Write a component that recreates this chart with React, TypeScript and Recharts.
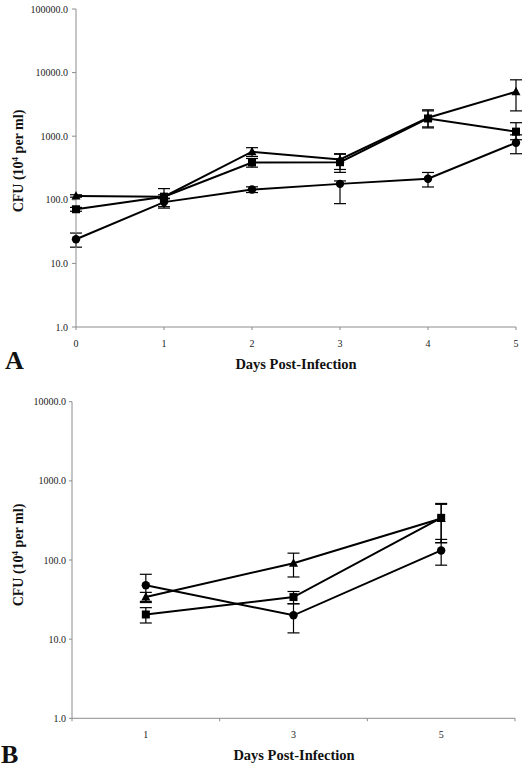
import { LineChart, Line, XAxis, YAxis, ErrorBar } from 'recharts';

// Panel A
const daysA = [0, 1, 2, 3, 4, 5];
const triA = [115, 112, 570, 430, 1950, 5000];
const triAErr = [[5, 5], [8, 8], [90, 90], [130, 100], [550, 650], [2500, 2700]];
const sqA = [71, 112, 386, 390, 1900, 1180];
const sqAErr = [[5, 5], [38, 38], [60, 60], [120, 130], [550, 600], [300, 450]];
const cirA = [24, 92, 145, 178, 214, 790];
const cirAErr = [[6, 6], [14, 14], [15, 15], [91, 20], [55, 55], [260, 260]];
const ticksA = [1, 10, 100, 1000, 10000, 100000];

// Panel B
const daysB = [1, 3, 5];
const triB = [34, 91, 335];
const triBErr = [[5, 5], [30, 31], [170, 170]];
const sqB = [20.5, 34, 341];
const sqBErr = [[4.5, 4.5], [6, 6], [175, 177]];
const cirB = [48, 20, 132];
const cirBErr = [[18, 18], [8, 8], [46, 50]];
const ticksB = [1, 10, 100, 1000, 10000];

const dataA = daysA.map((d, i) => ({
  day: d, tri: triA[i], triErr: triAErr[i], sq: sqA[i], sqErr: sqAErr[i], cir: cirA[i], cirErr: cirAErr[i],
}));
const dataB = daysB.map((d, i) => ({
  day: d, tri: triB[i], triErr: triBErr[i], sq: sqB[i], sqErr: sqBErr[i], cir: cirB[i], cirErr: cirBErr[i],
}));

const FONT = '"Liberation Serif", "DejaVu Serif", serif';
const AXIS = '#8c8c8c';

function marker(shape: string) {
  return (p: any) => {
    const { cx, cy, index } = p;
    if (cx == null || cy == null) return <g key={`${shape}-${index}`} />;
    if (shape === 'tri')
      return <polygon key={`${shape}-${index}`} points={`${cx},${cy - 5} ${cx - 4.5},${cy + 3.5} ${cx + 4.5},${cy + 3.5}`} fill="#000" />;
    if (shape === 'sq')
      return <rect key={`${shape}-${index}`} x={cx - 4} y={cy - 4} width={8} height={8} fill="#000" />;
    return <circle key={`${shape}-${index}`} cx={cx} cy={cy} r={4.2} fill="#000" />;
  };
}

const XTickA = ({ x, y, payload }: any) => (
  <g>
    <line x1={x} x2={x} y1={y} y2={y + 3} stroke={AXIS} />
    <text x={x} y={y + 20} textAnchor="middle" fontFamily={FONT} fontSize={10} fill="#222">{payload.value}</text>
  </g>
);

const XTickB = ({ x, y, payload }: any) =>
  payload.value % 2 === 0 ? (
    <line x1={x} x2={x} y1={y} y2={y + 3} stroke={AXIS} />
  ) : (
    <text x={x} y={y + 20} textAnchor="middle" fontFamily={FONT} fontSize={10} fill="#222">{payload.value}</text>
  );

const YTitle = ({ cy }: { cy: number }) => (
  <text transform={`translate(23, ${cy}) rotate(-90)`} textAnchor="middle" fontFamily={FONT} fontWeight="bold" fontSize={14} fill="#111">
    CFU (10<tspan dy={-5} fontSize={9}>4</tspan><tspan dy={5}> per ml)</tspan>
  </text>
);

const XTitle = ({ cx, y, letter, lx, ly }: any) => (
  <g>
    <text x={cx} y={y} textAnchor="middle" fontFamily={FONT} fontWeight="bold" fontSize={14.5} fill="#111">Days Post-Infection</text>
    <text x={lx} y={ly} fontFamily={FONT} fontWeight="bold" fontSize={26} fill="#111">{letter}</text>
  </g>
);

function series() {
  return [
    <Line key="tri" dataKey="tri" stroke="#000" strokeWidth={2} dot={marker('tri')} activeDot={false} isAnimationActive={false}>
      <ErrorBar dataKey="triErr" direction="y" width={6} stroke="#000" strokeWidth={1.2} />
    </Line>,
    <Line key="sq" dataKey="sq" stroke="#000" strokeWidth={2} dot={marker('sq')} activeDot={false} isAnimationActive={false}>
      <ErrorBar dataKey="sqErr" direction="y" width={6} stroke="#000" strokeWidth={1.2} />
    </Line>,
    <Line key="cir" dataKey="cir" stroke="#000" strokeWidth={2} dot={marker('cir')} activeDot={false} isAnimationActive={false}>
      <ErrorBar dataKey="cirErr" direction="y" width={6} stroke="#000" strokeWidth={1.2} />
    </Line>,
  ];
}

export default function App() {
  return (
    <div style={{ position: 'absolute', left: 0, top: 0, width: 529, height: 772, background: '#fff' }}>
      <div style={{ position: 'absolute', left: 0, top: 0 }}>
        <LineChart width={529} height={380} data={dataA} margin={{ top: 9, right: 13, bottom: 23, left: 0 }}>
          <XAxis
            dataKey="day" type="number" domain={[0, 5]} ticks={daysA} interval={0}
            axisLine={{ stroke: AXIS }} tickLine={false} tickSize={0} tickMargin={0} height={30}
            tick={<XTickA />}
            label={{ content: () => <XTitle cx={296} y={369} letter="A" lx={5} ly={369} /> }}
          />
          <YAxis
            scale="log" domain={[1, 100000]} ticks={ticksA} allowDataOverflow width={76}
            axisLine={{ stroke: AXIS }} tickLine={{ stroke: AXIS }} tickSize={4} tickMargin={4}
            tick={{ fontFamily: FONT, fontSize: 10, fill: '#222' }}
            tickFormatter={(v: number) => Number(v).toFixed(1)}
            label={{ content: () => <YTitle cy={161} /> }}
          />
          {series()}
        </LineChart>
      </div>
      <div style={{ position: 'absolute', left: 0, top: 380 }}>
        <LineChart width={529} height={392} data={dataB} margin={{ top: 21.7, right: 14, bottom: 23.7, left: 0 }}>
          <XAxis
            dataKey="day" type="number" domain={[0, 6]} ticks={[0, 1, 2, 3, 4, 5, 6]} interval={0}
            axisLine={{ stroke: AXIS }} tickLine={false} tickSize={0} tickMargin={0} height={30}
            tick={<XTickB />}
            label={{ content: () => <XTitle cx={294} y={380} letter="B" lx={1} ly={383} /> }}
          />
          <YAxis
            scale="log" domain={[1, 10000]} ticks={ticksB} allowDataOverflow width={72}
            axisLine={{ stroke: AXIS }} tickLine={{ stroke: AXIS }} tickSize={3} tickMargin={3}
            tick={{ fontFamily: FONT, fontSize: 10, fill: '#222' }}
            tickFormatter={(v: number) => Number(v).toFixed(1)}
            label={{ content: () => <YTitle cy={175} /> }}
          />
          {series()}
        </LineChart>
      </div>
    </div>
  );
}
